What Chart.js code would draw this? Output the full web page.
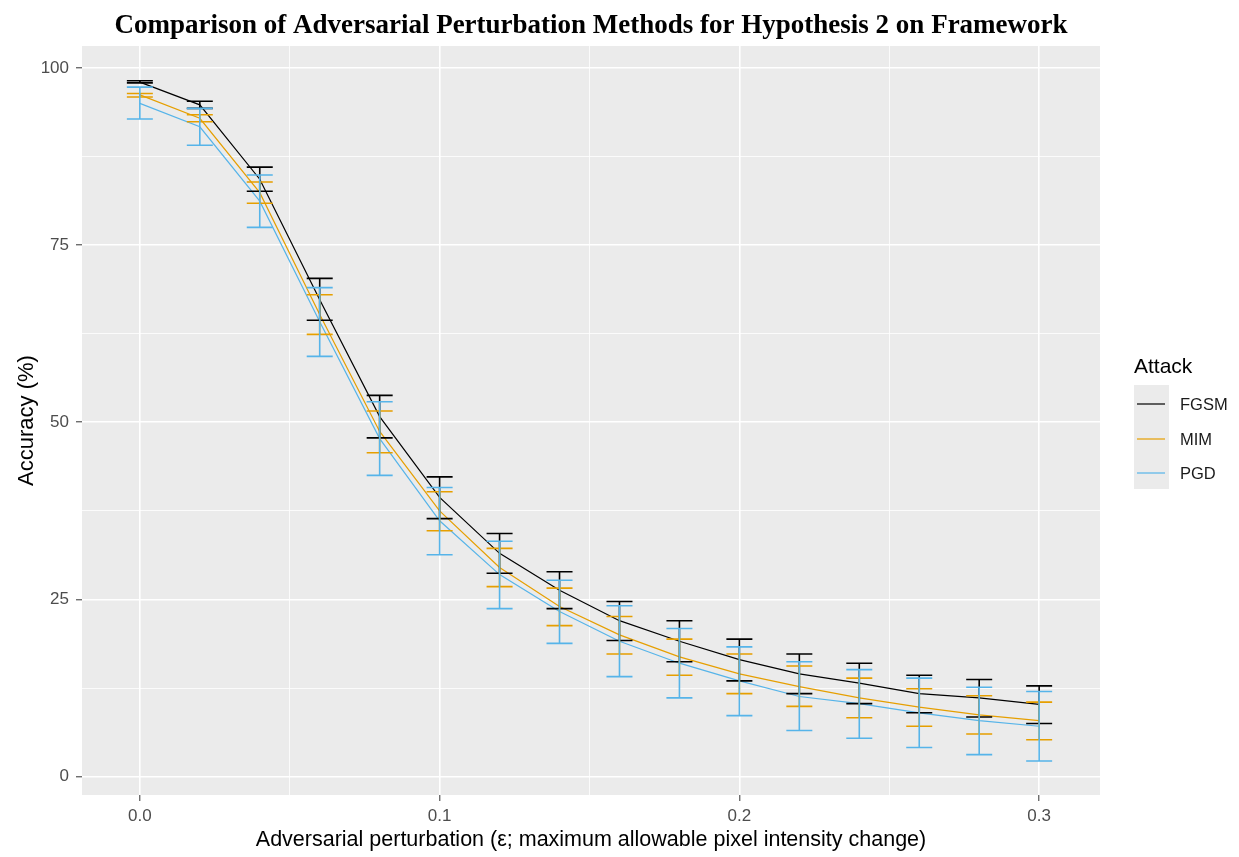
<!DOCTYPE html>
<html>
<head>
<meta charset="utf-8">
<script src="https://cdn.jsdelivr.net/npm/chart.js@4"></script>
<style>
  html, body { margin: 0; padding: 0; background: #fff; }
  #wrap { width: 1239px; height: 857px; }
</style>
</head>
<body>
<div id="wrap"><canvas id="chart" width="1239" height="857"></canvas></div>
<script>
// perturbation strengths
const epsilon = [0, 0.02, 0.04, 0.06, 0.08, 0.10, 0.12, 0.14, 0.16, 0.18, 0.20, 0.22, 0.24, 0.26, 0.28, 0.30];

// accuracy (%) - mean and error bar ends
const fgsmMean = [98.0, 94.8, 84.3, 67.3, 50.8, 39.4, 31.5, 26.3, 22.0, 19.1, 16.5, 14.5, 13.2, 11.7, 11.1, 10.2];
const fgsmLow  = [97.9, 94.3, 82.6, 64.4, 47.8, 36.4, 28.7, 23.7, 19.2, 16.2, 13.5, 11.7, 10.3, 9.0, 8.4, 7.5];
const fgsmHigh = [98.2, 95.3, 86.0, 70.3, 53.8, 42.3, 34.3, 28.9, 24.7, 22.0, 19.4, 17.3, 16.0, 14.3, 13.7, 12.8];

const mimMean = [96.2, 92.9, 82.4, 65.2, 48.7, 37.5, 29.5, 24.0, 20.0, 16.9, 14.5, 12.7, 11.1, 9.8, 8.7, 7.9];
const mimLow  = [95.9, 92.4, 80.9, 62.4, 45.7, 34.7, 26.8, 21.3, 17.3, 14.3, 11.7, 9.9, 8.3, 7.1, 6.0, 5.2];
const mimHigh = [96.4, 93.4, 83.9, 68.0, 51.6, 40.2, 32.2, 26.6, 22.6, 19.4, 17.3, 15.6, 13.9, 12.4, 11.4, 10.5];

const pgdMean = [95.0, 91.7, 81.2, 64.2, 47.7, 36.1, 28.5, 23.3, 19.1, 16.0, 13.5, 11.3, 10.3, 9.0, 7.9, 7.1];
const pgdLow  = [92.8, 89.1, 77.5, 59.3, 42.5, 31.3, 23.7, 18.8, 14.1, 11.1, 8.6, 6.5, 5.4, 4.1, 3.1, 2.2];
const pgdHigh = [97.3, 94.3, 84.9, 69.0, 52.9, 40.8, 33.2, 27.7, 24.1, 20.9, 18.3, 16.2, 15.1, 13.9, 12.6, 12.0];

const attacks = ['FGSM', 'MIM', 'PGD'];
const colors = ['#000000', '#E69F00', '#56B4E9'];
const yTicks = [0, 25, 50, 75, 100];
const xTicks = [0, 0.1, 0.2, 0.3];

const means = [fgsmMean, mimMean, pgdMean];
const lows = [fgsmLow, mimLow, pgdLow];
const highs = [fgsmHigh, mimHigh, pgdHigh];

const isMajor = (v, list) => list.some(t => Math.abs(t - v) < 1e-6);

const panelBg = {
    id: 'panelBg',
    beforeDraw(chart) {
        const a = chart.chartArea, ctx = chart.ctx;
        ctx.save();
        ctx.fillStyle = '#EBEBEB';
        ctx.fillRect(a.left, a.top, a.right - a.left, a.bottom - a.top);
        ctx.restore();
    }
};

const errorBars = {
    id: 'errorBars',
    afterDatasetsDraw(chart) {
        const ctx = chart.ctx, xs = chart.scales.x, ys = chart.scales.y;
        ctx.save();
        ctx.lineWidth = 1.6;
        for (let s = 0; s < attacks.length; s++) {
            ctx.strokeStyle = colors[s];
            for (let i = 0; i < epsilon.length; i++) {
                const px = xs.getPixelForValue(epsilon[i]);
                const y1 = ys.getPixelForValue(lows[s][i]);
                const y2 = ys.getPixelForValue(highs[s][i]);
                ctx.beginPath();
                ctx.moveTo(px, y1); ctx.lineTo(px, y2);
                ctx.moveTo(px - 13, y1); ctx.lineTo(px + 13, y1);
                ctx.moveTo(px - 13, y2); ctx.lineTo(px + 13, y2);
                ctx.stroke();
            }
        }
        ctx.restore();
    }
};

const decorations = {
    id: 'decorations',
    afterDraw(chart) {
        const ctx = chart.ctx, a = chart.chartArea;
        ctx.save();
        // title centred over the panel
        ctx.fillStyle = '#000';
        ctx.font = 'bold 27px "Liberation Serif"';
        ctx.textAlign = 'center';
        ctx.textBaseline = 'middle';
        ctx.fillText('Comparison of Adversarial Perturbation Methods for Hypothesis 2 on Framework', (a.left + a.right) / 2, 26);

        // legend
        ctx.textAlign = 'left';
        ctx.font = '21px "Liberation Sans"';
        ctx.fillStyle = '#000';
        ctx.fillText('Attack', 1134, 367);
        ctx.fillStyle = '#EBEBEB';
        ctx.fillRect(1134, 385, 35, 104);
        const keyY = [404, 439, 473];
        ctx.font = '16.5px "Liberation Sans"';
        ctx.lineWidth = 1.2;
        for (let s = 0; s < attacks.length; s++) {
            ctx.strokeStyle = colors[s];
            ctx.beginPath();
            ctx.moveTo(1137, keyY[s]); ctx.lineTo(1165, keyY[s]);
            ctx.stroke();
            ctx.fillStyle = '#1A1A1A';
            ctx.fillText(attacks[s], 1180, keyY[s] + 1);
        }
        ctx.restore();
    }
};

new Chart(document.getElementById('chart').getContext('2d'), {
    type: 'line',
    data: {
        datasets: attacks.map((name, s) => ({
            label: name,
            data: epsilon.map((e, i) => ({ x: e, y: means[s][i] })),
            borderColor: colors[s],
            borderWidth: 1.2,
            pointRadius: 0,
            tension: 0,
            fill: false
        }))
    },
    options: {
        responsive: false,
        animation: false,
        layout: { padding: { top: 46, right: 139, left: 0, bottom: 0 } },
        plugins: {
            legend: { display: false },
            title: { display: false },
            tooltip: { enabled: false }
        },
        scales: {
            x: {
                type: 'linear',
                min: -0.0193,
                max: 0.3203,
                border: { display: false },
                afterFit(scale) { scale.height = 62; },
                ticks: {
                    stepSize: 0.05,
                    includeBounds: false,
                    padding: 5,
                    color: '#4D4D4D',
                    font: { family: 'Liberation Sans', size: 17 },
                    callback: v => isMajor(v, xTicks) ? v.toFixed(1) : ''
                },
                grid: {
                    color: '#FFFFFF',
                    lineWidth: c => isMajor(c.tick.value, xTicks) ? 1.6 : 0.8,
                    drawTicks: true,
                    tickLength: 6,
                    tickColor: c => isMajor(c.tick.value, xTicks) ? '#333333' : 'rgba(0,0,0,0)',
                    tickWidth: 1
                },
                title: {
                    display: true,
                    text: 'Adversarial perturbation (\u03b5; maximum allowable pixel intensity change)',
                    color: '#000',
                    font: { family: 'Liberation Sans', size: 21.5 },
                    padding: { top: 2, bottom: 4 }
                }
            },
            y: {
                type: 'linear',
                min: -2.6,
                max: 103.1,
                border: { display: false },
                afterFit(scale) { scale.width = 82; },
                ticks: {
                    stepSize: 12.5,
                    includeBounds: false,
                    padding: 7,
                    color: '#4D4D4D',
                    font: { family: 'Liberation Sans', size: 17 },
                    callback: v => isMajor(v, yTicks) ? String(v) : ''
                },
                grid: {
                    color: '#FFFFFF',
                    lineWidth: c => isMajor(c.tick.value, yTicks) ? 1.6 : 0.8,
                    drawTicks: true,
                    tickLength: 6,
                    tickColor: c => isMajor(c.tick.value, yTicks) ? '#333333' : 'rgba(0,0,0,0)',
                    tickWidth: 1
                },
                title: {
                    display: true,
                    text: 'Accuracy (%)',
                    color: '#000',
                    font: { family: 'Liberation Sans', size: 22 },
                    padding: { top: 14, bottom: 0 }
                }
            }
        }
    },
    plugins: [panelBg, errorBars, decorations]
});
</script>
</body>
</html>
